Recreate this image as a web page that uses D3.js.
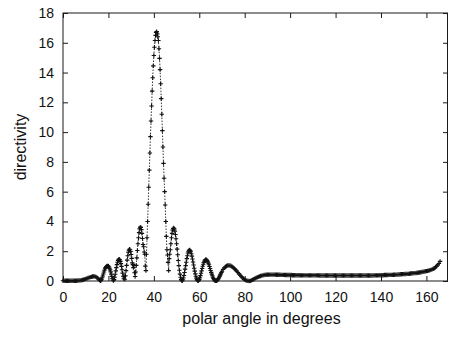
<!DOCTYPE html>
<html>
<head>
<meta charset="utf-8">
<script src="https://cdn.jsdelivr.net/npm/d3@7"></script>
<style>
  body { margin: 0; background: #fff; }
  svg { display: block; font-family: "Liberation Sans", Arial, Helvetica, sans-serif; }
  .tick text { fill: #111; }
</style>
</head>
<body>
<svg id="chart" width="449" height="337"></svg>
<script>
const nearStart = 0, nearStep = 0.5;
const nearValues = [
  0.02, 0.02, 0.02, 0.02, 0.02, 0.02, 0.02, 0.02, 0.02, 0.02, 0.02, 0.02, 0.02,
  0.03, 0.03, 0.04, 0.05, 0.07, 0.09, 0.11, 0.14, 0.17, 0.20, 0.23, 0.26, 0.28,
  0.30, 0.31, 0.31, 0.28, 0.22, 0.15,
];

const lobeStart = 16, lobeStep = 0.25;
const lobeValues = [
  0.08, 0.04, 0.02, 0.05, 0.12, 0.22, 0.34, 0.47, 0.60, 0.72, 0.82, 0.90, 0.95, 0.99, 1.01, 1.01,
  0.99, 0.94, 0.86, 0.75, 0.61, 0.46, 0.31, 0.17, 0.07, 0.03, 0.10, 0.25, 0.45, 0.68, 0.90, 1.10,
  1.26, 1.38, 1.45, 1.46, 1.42, 1.32, 1.17, 0.98, 0.76, 0.53, 0.32, 0.15, 0.30, 0.12, 0.35, 0.70,
  1.05, 1.40, 1.70, 1.93, 2.07, 2.13, 2.10, 1.98, 1.78, 1.52, 1.22, 1.10, 0.90, 1.05, 0.55, 0.30,
  0.60, 1.05, 1.55, 2.05, 2.50, 2.90, 3.25, 3.50, 3.62, 3.60, 3.45, 3.20, 2.85, 2.45, 2.30, 1.95,
  1.80, 1.00, 0.70, 1.80, 2.90, 4.00, 5.15, 6.30, 7.45, 8.60, 9.70, 10.75, 11.75, 12.75, 13.65, 14.45,
  15.15, 15.70, 16.15, 16.50, 16.70, 16.75, 16.60, 16.40, 16.15, 15.60, 14.95, 14.20, 13.25, 12.25, 11.20, 10.10,
  9.00, 7.90, 6.90, 6.00, 5.10, 4.00, 3.00, 2.10, 1.75, 1.25, 0.70, 1.50, 1.80, 2.10, 2.50, 2.90,
  3.20, 3.42, 3.53, 3.56, 3.50, 3.35, 3.12, 2.84, 2.50, 2.14, 1.76, 1.38, 1.03, 0.72, 0.46, 0.25,
  0.11, 0.03, 0.02, 0.08, 0.20, 0.37, 0.57, 0.80, 1.03, 1.26, 1.50, 1.70, 1.88, 2.00, 2.07, 2.08,
  2.04, 1.96, 1.83, 1.67, 1.48, 1.28, 1.07, 0.86, 0.66, 0.48, 0.32, 0.19, 0.09, 0.03, 0.01, 0.04,
  0.11, 0.22, 0.36, 0.52, 0.68, 0.84, 0.99, 1.12, 1.24, 1.33, 1.40, 1.43, 1.43, 1.41, 1.36, 1.29,
  1.20, 1.09, 0.97, 0.84, 0.71, 0.58, 0.46, 0.35, 0.25, 0.17, 0.10, 0.05, 0.02, 0.01, 0.01, 0.03,
  0.07, 0.12, 0.18, 0.25, 0.33, 0.41, 0.49, 0.57, 0.65,
];

const midStart = 70.5, midStep = 0.5;
const midValues = [
  0.78, 0.88, 0.96, 1.01, 1.04, 1.05, 1.04, 1.01, 0.96, 0.90, 0.83, 0.75, 0.66, 0.57, 0.48, 0.39,
  0.30, 0.22, 0.15, 0.09, 0.05, 0.02, 0.01, 0.00, 0.01, 0.04, 0.08, 0.12, 0.17, 0.21, 0.25, 0.28,
  0.31, 0.34, 0.36, 0.38, 0.40, 0.41, 0.42, 0.43,
];

const farStart = 90.5, farStep = 0.5;
const farValues = [
  0.43, 0.43, 0.43, 0.43, 0.43, 0.43, 0.43, 0.42, 0.42, 0.42,
  0.42, 0.41, 0.41, 0.41, 0.41, 0.40, 0.40, 0.40, 0.40, 0.40,
  0.40, 0.39, 0.39, 0.39, 0.39, 0.39, 0.39, 0.39, 0.38, 0.38,
  0.38, 0.38, 0.38, 0.38, 0.38, 0.38, 0.38, 0.38, 0.38, 0.38,
  0.38, 0.38, 0.38, 0.38, 0.38, 0.37, 0.37, 0.37, 0.37, 0.37,
  0.37, 0.37, 0.37, 0.37, 0.37, 0.37, 0.37, 0.37, 0.37, 0.37,
  0.37, 0.37, 0.37, 0.37, 0.37, 0.37, 0.37, 0.37, 0.37, 0.37,
  0.37, 0.37, 0.37, 0.37, 0.37, 0.37, 0.37, 0.37, 0.37, 0.37,
  0.37, 0.37, 0.37, 0.37, 0.37, 0.37, 0.37, 0.37, 0.37, 0.37,
  0.37, 0.37, 0.37, 0.38, 0.38, 0.38, 0.38, 0.38, 0.39, 0.39,
  0.39, 0.39, 0.40, 0.40, 0.40, 0.40, 0.41, 0.41, 0.41, 0.41,
  0.42, 0.42, 0.43, 0.43, 0.44, 0.44, 0.45, 0.45, 0.46, 0.46,
  0.47, 0.47, 0.48, 0.48, 0.49, 0.50, 0.51, 0.52, 0.53, 0.53,
  0.54, 0.55, 0.56, 0.57, 0.59, 0.60, 0.62, 0.63, 0.65, 0.66,
  0.68, 0.70, 0.72, 0.75, 0.78, 0.82, 0.86, 0.92, 0.99, 1.08, 1.18, 1.32,
];

const xTicks = [0, 20, 40, 60, 80, 100, 120, 140, 160];
const yTicks = [0, 2, 4, 6, 8, 10, 12, 14, 16, 18];
const xLabel = 'polar angle in degrees';
const yLabel = 'directivity';

function onGrid(start, step, values) {
  return values.map((v, i) => ({ angle: start + i * step, value: v }));
}

const points = [].concat(
  onGrid(nearStart, nearStep, nearValues),
  onGrid(lobeStart, lobeStep, lobeValues),
  onGrid(midStart, midStep, midValues),
  onGrid(farStart, farStep, farValues),
);

const margin = { top: 13, right: 1, bottom: 56, left: 63 };
const svg = d3.select('#chart');
const width = +svg.attr('width');
const height = +svg.attr('height');

const x = d3.scaleLinear().domain([0, 169.5]).range([margin.left, width - margin.right]);
const y = d3.scaleLinear().domain([0, 18]).range([height - margin.bottom, margin.top]);

const ink = '#1a1a1a';

// ticks point inward on all four sides, gnuplot style
svg.append('g')
  .attr('transform', `translate(0,${y(0)})`)
  .call(d3.axisBottom(x).tickValues(xTicks).tickSizeInner(-5).tickSizeOuter(0).tickPadding(11))
  .call((g) => g.select('.domain').remove())
  .call((g) => g.selectAll('line').attr('stroke', ink))
  .call((g) => g.selectAll('text').attr('font-size', 14));

svg.append('g')
  .attr('transform', `translate(0,${y(18)})`)
  .call(d3.axisTop(x).tickValues(xTicks).tickSizeInner(-5).tickSizeOuter(0).tickFormat(''))
  .call((g) => g.select('.domain').remove())
  .call((g) => g.selectAll('line').attr('stroke', ink));

svg.append('g')
  .attr('transform', `translate(${x(0)},0)`)
  .call(d3.axisLeft(y).tickValues(yTicks).tickSizeInner(-5).tickSizeOuter(0).tickPadding(9))
  .call((g) => g.select('.domain').remove())
  .call((g) => g.selectAll('line').attr('stroke', ink))
  .call((g) => g.selectAll('text').attr('font-size', 14));

svg.append('g')
  .attr('transform', `translate(${x(169.5)},0)`)
  .call(d3.axisRight(y).tickValues(yTicks).tickSizeInner(-5).tickSizeOuter(0).tickFormat(''))
  .call((g) => g.select('.domain').remove())
  .call((g) => g.selectAll('line').attr('stroke', ink));

svg.append('rect')
  .attr('x', x(0))
  .attr('y', y(18))
  .attr('width', x(169.5) - x(0) - 0.5)
  .attr('height', y(0) - y(18))
  .attr('fill', 'none')
  .attr('stroke', ink)
  .attr('stroke-width', 1);

const line = d3.line()
  .x((d) => x(d.angle))
  .y((d) => y(d.value));

svg.append('path')
  .datum(points)
  .attr('d', line)
  .attr('fill', 'none')
  .attr('stroke', '#333')
  .attr('stroke-width', 1)
  .attr('stroke-dasharray', '1.5,1.5');

svg.append('g')
  .selectAll('path')
  .data(points)
  .join('path')
  .attr('transform', (d) => `translate(${x(d.angle)},${y(d.value)})`)
  .attr('d', 'M-2.2,0H2.2M0,-2.2V2.2')
  .attr('stroke', '#111')
  .attr('stroke-width', 1.1)
  .attr('fill', 'none');

svg.append('text')
  .attr('x', (x(0) + x(169.5)) / 2 + 6)
  .attr('y', 324)
  .attr('text-anchor', 'middle')
  .attr('font-size', 16)
  .attr('fill', '#111')
  .text(xLabel);

svg.append('text')
  .attr('transform', `translate(26,${(y(0) + y(18)) / 2}) rotate(-90)`)
  .attr('text-anchor', 'middle')
  .attr('font-size', 16)
  .attr('fill', '#111')
  .text(yLabel);
</script>
</body>
</html>
